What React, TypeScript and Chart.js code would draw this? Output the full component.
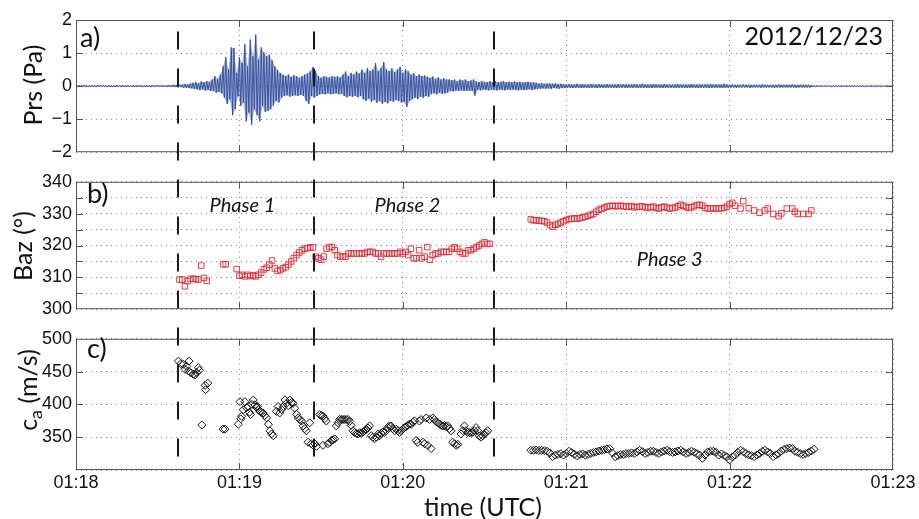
import React, { useEffect, useRef } from 'react';
import { Chart, registerables } from 'chart.js';

Chart.register(...registerables);

// ---------------- data (time = seconds after 01:18:00 UTC) ----------------
const timeTickSeconds = [0, 60, 120, 180, 240, 300];
const timeTickLabels = ['01:18', '01:19', '01:20', '01:21', '01:22', '01:23'];

const phaseBounds = [37.5, 87.5, 153.5];
const phaseNames = ['Phase 1', 'Phase 2', 'Phase 3'];
const phaseLabelTimes = [61.1, 121.7, 218];
const phaseLabelBaz = [330.4, 330.4, 313.7];

// pressure envelope (Pa), one value per second from t = 0
const prsStart = 0;
const prsStep = 1;
const prsUpper = [
  0.02, 0.03, 0.02, 0.03, 0.02, 0.02, 0.03, 0.02, 0.03, 0.02,
  0.03, 0.02, 0.03, 0.02, 0.02, 0.03, 0.02, 0.03, 0.02, 0.03,
  0.02, 0.03, 0.02, 0.03, 0.02, 0.02, 0.03, 0.02, 0.03, 0.02,
  0.03, 0.02, 0.03, 0.02, 0.03, 0.03, 0.04, 0.03, 0.04, 0.05,
  0.06, 0.05, 0.08, 0.1, 0.12, 0.09, 0.14, 0.12, 0.15, 0.13,
  0.2, 0.3, 0.22, 0.35, 0.6, 0.88, 0.5, 1.17, 1.15, 0.4,
  0.88, 0.7, 1.27, 0.6, 1.41, 0.9, 1.56, 0.8, 1.17, 1.02,
  0.9, 0.95, 0.78, 0.6, 0.49, 0.4, 0.35, 0.3, 0.35, 0.28,
  0.33, 0.3, 0.25, 0.3, 0.35, 0.38, 0.45, 0.58, 0.45, 0.3,
  0.25, 0.3, 0.28, 0.26, 0.3, 0.28, 0.3, 0.26, 0.35, 0.44,
  0.3, 0.4, 0.35, 0.44, 0.38, 0.5, 0.4, 0.54, 0.45, 0.5,
  0.7, 0.45, 0.55, 0.73, 0.5, 0.45, 0.54, 0.42, 0.5, 0.58,
  0.4, 0.5, 0.45, 0.35, 0.39, 0.3, 0.35, 0.3, 0.32, 0.28,
  0.25, 0.29, 0.22, 0.26, 0.2, 0.24, 0.2, 0.2, 0.18, 0.2,
  0.15, 0.2, 0.17, 0.2, 0.15, 0.17, 0.2, 0.14, 0.12, 0.15,
  0.13, 0.12, 0.15, 0.12, 0.14, 0.12, 0.13, 0.15, 0.12, 0.13,
  0.12, 0.14, 0.12, 0.13, 0.11, 0.12, 0.13, 0.11, 0.12, 0.1,
  0.08, 0.09, 0.07, 0.08, 0.08, 0.07, 0.08, 0.06, 0.07, 0.06,
  0.05, 0.06, 0.05, 0.05, 0.07, 0.05, 0.06, 0.05, 0.05, 0.06,
  0.05, 0.05, 0.06, 0.05, 0.05, 0.06, 0.05, 0.05, 0.05, 0.06,
  0.05, 0.06, 0.05, 0.05, 0.05, 0.06, 0.05, 0.05, 0.07, 0.05,
  0.05, 0.05, 0.06, 0.05, 0.05, 0.05, 0.06, 0.05, 0.05, 0.05,
  0.05, 0.06, 0.05, 0.05, 0.05, 0.05, 0.06, 0.05, 0.05, 0.05,
  0.05, 0.05, 0.05, 0.06, 0.05, 0.05, 0.05, 0.05, 0.07, 0.05,
  0.04, 0.05, 0.04, 0.04, 0.04, 0.05, 0.04, 0.04, 0.04, 0.04,
  0.04, 0.04, 0.05, 0.04, 0.04, 0.04, 0.04, 0.04, 0.05, 0.04,
  0.04, 0.04, 0.04, 0.05, 0.04, 0.04, 0.04, 0.04, 0.04, 0.04,
  0.03, 0.02, 0.02, 0.015, 0.02, 0.015, 0.02, 0.015, 0.02, 0.015,
  0.02, 0.015, 0.02, 0.015, 0.02, 0.015, 0.02, 0.015, 0.02, 0.015,
  0.02, 0.015, 0.02, 0.015, 0.02, 0.015, 0.02, 0.015, 0.02, 0.015,
  0.02,
];
const prsLower = [
  -0.02, -0.02, -0.03, -0.02, -0.03, -0.02, -0.02, -0.03, -0.02, -0.02,
  -0.02, -0.03, -0.02, -0.02, -0.03, -0.02, -0.02, -0.03, -0.02, -0.02,
  -0.02, -0.03, -0.02, -0.02, -0.03, -0.02, -0.02, -0.03, -0.02, -0.02,
  -0.02, -0.03, -0.02, -0.03, -0.02, -0.03, -0.03, -0.04, -0.03, -0.05,
  -0.05, -0.06, -0.07, -0.09, -0.1, -0.12, -0.1, -0.14, -0.12, -0.15,
  -0.15, -0.2, -0.18, -0.22, -0.35, -0.54, -0.4, -0.88, -0.7, -0.3,
  -0.6, -0.5, -1.07, -0.8, -1.17, -0.7, -0.88, -1.07, -0.6, -0.78,
  -0.75, -0.7, -0.58, -0.45, -0.5, -0.35, -0.3, -0.28, -0.32, -0.3,
  -0.28, -0.3, -0.27, -0.3, -0.45, -0.54, -0.3, -0.35, -0.3, -0.25,
  -0.24, -0.25, -0.22, -0.25, -0.24, -0.22, -0.25, -0.24, -0.3, -0.34,
  -0.3, -0.33, -0.3, -0.34, -0.3, -0.4, -0.45, -0.38, -0.49, -0.42,
  -0.5, -0.45, -0.54, -0.48, -0.52, -0.45, -0.48, -0.42, -0.45, -0.5,
  -0.48, -0.63, -0.45, -0.4, -0.35, -0.39, -0.32, -0.35, -0.3, -0.33,
  -0.24, -0.22, -0.25, -0.2, -0.24, -0.22, -0.2, -0.15, -0.16, -0.14,
  -0.15, -0.13, -0.15, -0.14, -0.15, -0.14, -0.29, -0.12, -0.13, -0.11,
  -0.12, -0.13, -0.11, -0.12, -0.13, -0.11, -0.12, -0.13, -0.11, -0.12,
  -0.11, -0.12, -0.13, -0.11, -0.12, -0.11, -0.1, -0.12, -0.1, -0.09,
  -0.08, -0.07, -0.08, -0.07, -0.08, -0.06, -0.07, -0.08, -0.06, -0.06,
  -0.05, -0.05, -0.06, -0.05, -0.05, -0.06, -0.05, -0.05, -0.06, -0.05,
  -0.05, -0.06, -0.05, -0.05, -0.06, -0.05, -0.05, -0.05, -0.06, -0.05,
  -0.05, -0.05, -0.06, -0.05, -0.05, -0.05, -0.06, -0.05, -0.05, -0.06,
  -0.05, -0.06, -0.05, -0.05, -0.05, -0.06, -0.05, -0.05, -0.05, -0.05,
  -0.06, -0.05, -0.05, -0.05, -0.06, -0.05, -0.05, -0.05, -0.06, -0.05,
  -0.05, -0.05, -0.06, -0.05, -0.05, -0.05, -0.05, -0.06, -0.05, -0.05,
  -0.04, -0.04, -0.05, -0.04, -0.04, -0.04, -0.04, -0.05, -0.04, -0.04,
  -0.04, -0.05, -0.04, -0.04, -0.04, -0.04, -0.05, -0.04, -0.04, -0.04,
  -0.04, -0.04, -0.04, -0.04, -0.05, -0.04, -0.04, -0.04, -0.04, -0.04,
  -0.03, -0.02, -0.015, -0.02, -0.015, -0.02, -0.015, -0.02, -0.015, -0.02,
  -0.015, -0.02, -0.015, -0.02, -0.015, -0.02, -0.015, -0.02, -0.015, -0.02,
  -0.015, -0.02, -0.015, -0.02, -0.015, -0.02, -0.015, -0.02, -0.015, -0.02,
  -0.015,
];

// back-azimuth (deg), one value per second
const bazStart12 = 38;
const bazValues12: (number | null)[] = [
  309.3, 309.3, 307.2, 308.8, 309.5, 309.6, 309.4, 309.3, 313.7, 309.8,
  308.9, null, null, null, null, null, 314.1, 314.1, null, null,
  null, 312.6, 310.5, 310.8, 310.3, 310.8, 310.4, 310.6, 310.3, 310.8,
  311.5, 312.5, 313, 314, 315.3, 312.8, 312, 312.3, 312.8, 313.2,
  314, 315, 316, 317, 317.8, 318.5, 319, 319.2, 319.4, 319.4,
  316.5, 316, 315.5, 316.5, 319, 319.5, 319.5, 318.5, 317, 316.5,
  316.5, 316.5, 317.5, 317.5, 317.5, 317.5, 317.5, 317.5, 317.5, 318,
  318, 318, 317.5, 317.5, 316.5, 317.5, 317.5, 317.5, 317.5, 317.5,
  317.5, 318, 317.5, 318, 317, 319, 316, 316, 318.5, 316,
  316.5, 319.5, 315.5, 317, 317.5, 317.5, 318, 318, 318, 318,
  319, 319.5, 319, 318, 317.5, 317.5, 318.5, 318.5, 319, 319.5,
  320, 320.5, 321, 320.5, 320.5,
];
const bazStart3 = 167;
const bazValues3: (number | null)[] = [
  328.2, 327.9, 327.9, 327.8, 327.7, 327.6, 327.2, 326.4, 325.9, 326.5,
  326.8, 327.2, 327.6, 328, 328.3, 328.4, 328.5, 328.4, 328.6, 328.8,
  329, 329.3, 329.6, 329.9, 330.6, 331.2, 331.5, 331.9, 332.2, 332.4,
  332.5, 332.3, 332.4, 332.5, 332.3, 332.2, 332.2, 332.4, 332, 332.1,
  332.2, 332.3, 332, 331.8, 332, 332.2, 331.8, 331.6, 332, 332.2,
  331.9, 331.6, 331.8, 331.9, 332.3, 332.8, 332.5, 332.1, 331.8, 332,
  332.4, 332.7, 332.8, 332.5, 331.8, 331.6, 331.6, 331.7, 331.6, 331.6,
  331.7, 331.8, 332.2, 333, 333.4, 332.5, null, 331.6, 333.9, null,
  331.7, null, 331, null, 330.3, null, 331, 331.6, null, 329.9,
  null, 329.2, 330.1, null, 331.6, null, 331.6, 330.6, 329.9, null,
  329.9, null, 329.9, 331, null,
];

// apparent velocity (m/s)
const caTimes12 = [
  37.6, 38.5, 39.4, 40, 40.7, 41.3, 41.5, 42.2, 43.1, 43.7, 44.3, 44.9, 45.3, 46.2, 47.4, 47.6, 48.4,
  54, 54.7, 59.6, 60.2, 60.5, 60.8, 61.4, 62, 62.6, 63.3, 63.7, 64.1, 64.6, 65.1, 65.7, 66.2, 66.7,
  67.1, 67.5, 68.1, 68.7, 69.3, 70, 70.6, 71.2, 71.8, 72.4, 73.6, 74.2, 74.8, 75.5, 76.1, 76.7, 77.3,
  77.9, 78.5, 79.1, 79.7, 80.3, 81, 81.6, 82.2, 82.8, 83.4, 84, 84.6, 85.2, 85.8, 86.4, 87, 87.7,
  88.3, 89.5, 90.1, 90.7, 90.7, 91.3, 91.9, 92.5, 93.2, 93.8, 94.4, 95, 95.6, 96.2, 96.8, 97.4, 98,
  98.5, 99.2, 99.9, 100.5, 101, 101.7, 102.3, 103, 103.6, 104.2, 104.8, 105.4, 106, 106.6, 107.2,
  107.8, 108.4, 109, 109.6, 110.3, 111, 111.5, 112.1, 112.7, 113.3, 113.9, 114.5, 115.1, 115.7,
  116.3, 117, 117.6, 118.2, 118.8, 119.4, 120, 120.6, 121.2, 121.8, 122.5, 123.1, 123.7, 124.3,
  124.9, 125.5, 126.1, 126.7, 127.4, 128, 128.6, 129.2, 129.8, 130.4, 131, 131.6, 132.2, 132.9,
  133.5, 134.1, 134.7, 135.3, 135.9, 136.5, 137.1, 137.7, 138.3, 139, 139.6, 140.2, 141.4, 142,
  142.6, 143.2, 143.8, 144.4, 145.1, 145.7, 146.3, 146.9, 147.5, 148.1, 148.7, 149.3, 149.9, 150.5, 151.2,
];
const caValues12 = [
  466, 462, 461, 453.5, 458, 451, 466, 448, 446, 445, 448.6, 456, 452, 368.6, 429, 422.4, 432.4,
  362.3, 362.3, 369.7, 404.2, 378, 382, 391.9, 404.2, 395, 396.8, 388, 384.5, 400, 406.7, 399.3, 396, 396.8,
  392, 389.4, 388, 386.9, 383, 379.4, 369.7, 359.8, 355, 352.3, 389.4, 396.8, 386.9, 392, 396.8, 406.7, 401.7,
  398, 406.7, 403, 401.7, 394.2, 385, 379.4, 377, 374.6, 367.2, 363, 359.8, 342.4, 372, 340, 338, 340,
  336, 384.5, 383, 382, 337.6, 378, 374.6, 340, 342, 345, 346, 347.5, 367.2, 372, 377.1, 377, 377,
  377, 377, 377, 374, 368, 359.8, 357, 356, 354.9, 357, 356, 358, 359.8, 362, 364,
  367.2, 352.3, 350, 347.5, 350, 355, 352.3, 356, 358, 357.3, 360, 365, 367.2, 367,
  363, 359.8, 362, 360, 357.3, 360, 362, 364.7, 366, 368, 370, 369.7, 373, 375,
  345, 342, 374.6, 377, 342.4, 340, 379.4, 337.5, 377, 332.6, 379.4, 377, 374, 372,
  370, 368, 367.2, 368, 366, 367.2, 363, 359.8, 342.4, 340, 337.5, 339, 354.9, 360,
  367.2, 360, 357.3, 357, 357, 357.3, 360, 364.7, 360, 352, 349.9, 352, 354.9, 357, 359.8,
];
const caStart3 = 167;
const caValues3 = [
  330.1, 330.1, 330.6, 329.8, 330.1, 329.5, 328.6, 326, 320.2, 322.7,
  323.7, 325, 322.7, 325.2, 328.6, 326.7, 324, 321.7, 323.7, 324.5,
  322.7, 323.7, 325.2, 326.7, 327.6, 329, 330.1, 331, 332, 332.6,
  326, 320.2, 322, 323.7, 323.7, 325, 325.2, 326.2, 325.2, 327.6,
  330.1, 328, 325.2, 326.7, 328.6, 328.6, 326.7, 325.2, 327.6, 329,
  330.1, 328, 326.7, 327.6, 329, 330.1, 327.6, 325.2, 326.7, 328.6,
  327, 325, 322.7, 317.8, 322.7, 327.6, 328.6, 328.6, 327, 322.7,
  324.5, 322, 320.2, 315.3, 320, 322.7, 327, 330.1, 328, 325.2,
  323, 322, 320.2, 323, 325.2, 328.6, 330.1, 327.6, 325, 320.2,
  323, 325.2, 329, 331.6, 332.6, 333.5, 333, 328.6, 327, 325,
  323.7, 325, 326.7, 329, 331.6,
];

// ---------------- tables built from the arrays ----------------
type Pt = { x: number; y: number };
const prsData: Pt[] = [];
const prsTop: Pt[] = [];
const prsBottom: Pt[] = [];
prsUpper.forEach((u, i) => {
  const t = prsStart + i * prsStep;
  prsData.push({ x: t, y: u });
  prsData.push({ x: t + prsStep / 2, y: prsLower[i] });
  prsTop.push({ x: t, y: u });
  prsBottom.push({ x: t + prsStep / 2, y: prsLower[i] });
});
const seriesFrom = (start: number, vals: (number | null)[]): Pt[] =>
  vals.flatMap((v, i) => (v === null ? [] : [{ x: start + i, y: v }]));
const bazData: Pt[] = [...seriesFrom(bazStart12, bazValues12), ...seriesFrom(bazStart3, bazValues3)];
const caData: Pt[] = [
  ...caTimes12.map((t, i) => ({ x: t, y: caValues12[i] })),
  ...seriesFrom(caStart3, caValues3),
];

// ---------------- layout & style ----------------
const CANVAS_W = 919;
const PLOT_L = 76;
const PLOT_R = 893;
const DASH_TOP = 31.5;
const DASH_BOTTOM = 462;
const GRID = '#8a8a8a';
const FRAME = '#555555';
const TXT = '#111111';
const PRS_COLOR = '#2d4a9c';
const TICK_FONT = { family: '"Liberation Sans", Arial, Helvetica, sans-serif', size: 18 };
const LBL = 'Lato, "Open Sans", sans-serif';

type Panel = { top: number; height: number; plotTop: number; plotBottom: number };
const panelA: Panel = { top: 0, height: 167, plotTop: 20, plotBottom: 156 };
const panelB: Panel = { top: 167, height: 157, plotTop: 178, plotBottom: 312 };
const panelC: Panel = { top: 324, height: 195, plotTop: 335, plotBottom: 470 };

const timeLabel = (v: number) => {
  const i = timeTickSeconds.indexOf(v);
  return i >= 0 ? timeTickLabels[i] : '';
};

function drawVTitle(
  ctx: CanvasRenderingContext2D,
  parts: { text: string; size: number; shift: number }[],
  bx: number,
  cy: number,
) {
  ctx.save();
  ctx.translate(bx, cy);
  ctx.rotate(-Math.PI / 2);
  ctx.fillStyle = TXT;
  ctx.textAlign = 'left';
  ctx.textBaseline = 'alphabetic';
  let total = 0;
  const ws = parts.map((p) => {
    ctx.font = `${p.size}px ${LBL}`;
    const w = ctx.measureText(p.text).width;
    total += w;
    return w;
  });
  let x = -total / 2;
  parts.forEach((p, i) => {
    ctx.font = `${p.size}px ${LBL}`;
    ctx.fillText(p.text, x, p.shift);
    x += ws[i];
  });
  ctx.restore();
}

function text(
  ctx: CanvasRenderingContext2D,
  s: string,
  x: number,
  y: number,
  font: string,
  align: CanvasTextAlign = 'left',
) {
  ctx.save();
  ctx.font = font;
  ctx.fillStyle = TXT;
  ctx.textAlign = align;
  ctx.textBaseline = 'alphabetic';
  ctx.fillText(s, x, y);
  ctx.restore();
}

function decorPlugin(panel: Panel, drawTexts: (chart: any, ctx: CanvasRenderingContext2D, off: number) => void) {
  return {
    id: 'decor',
    afterDatasetsDraw(chart: any) {
      const ctx: CanvasRenderingContext2D = chart.ctx;
      const a = chart.chartArea;
      const xs = chart.scales.x;
      const ys = chart.scales.y;
      const off = panel.top;
      // frame + inward ticks
      ctx.save();
      ctx.setLineDash([]);
      ctx.strokeStyle = FRAME;
      ctx.lineWidth = 1;
      ctx.strokeRect(a.left + 0.5, a.top + 0.5, a.right - a.left - 1, a.bottom - a.top - 1);
      const TL = 7;
      ctx.beginPath();
      for (const t of xs.ticks) {
        const px = Math.round(xs.getPixelForValue(t.value)) + 0.5;
        if (px < a.left + 2 || px > a.right - 2) continue;
        ctx.moveTo(px, a.top);
        ctx.lineTo(px, a.top + TL);
        ctx.moveTo(px, a.bottom);
        ctx.lineTo(px, a.bottom - TL);
      }
      for (const t of ys.ticks) {
        const py = Math.round(ys.getPixelForValue(t.value)) + 0.5;
        if (py < a.top + 2 || py > a.bottom - 2) continue;
        ctx.moveTo(a.left, py);
        ctx.lineTo(a.left + TL, py);
        ctx.moveTo(a.right, py);
        ctx.lineTo(a.right - TL, py);
      }
      ctx.stroke();
      ctx.restore();
      // phase boundaries: one dashed line through all panels
      ctx.save();
      ctx.strokeStyle = '#1c1c1c';
      ctx.lineWidth = 2;
      ctx.setLineDash([18, 19]);
      for (const t of phaseBounds) {
        const px = Math.round(xs.getPixelForValue(t));
        ctx.beginPath();
        ctx.moveTo(px, DASH_TOP - off);
        ctx.lineTo(px, DASH_BOTTOM - off);
        ctx.stroke();
      }
      ctx.restore();
      drawTexts(chart, ctx, off);
    },
  };
}

function baseOptions(panel: Panel, y: any, showX: boolean) {
  const padTop = panel.plotTop - panel.top;
  const localBottom = panel.plotBottom - panel.top;
  const xH = showX ? panel.height - localBottom : 0;
  const padBottom = showX ? 0 : panel.height - localBottom;
  return {
    responsive: false,
    animation: false as const,
    devicePixelRatio: 1,
    events: [],
    layout: { padding: { left: 0, right: CANVAS_W - PLOT_R, top: padTop, bottom: padBottom } },
    plugins: { legend: { display: false }, tooltip: { enabled: false } },
    scales: {
      x: {
        type: 'linear',
        min: 0,
        max: 300,
        afterFit: (s: any) => {
          s.height = xH;
        },
        border: { display: false, dash: [1, 4] },
        grid: { color: GRID, lineWidth: 1, drawTicks: false },
        ticks: {
          display: showX,
          stepSize: 60,
          padding: 2,
          color: TXT,
          font: TICK_FONT,
          maxRotation: 0,
          autoSkip: false,
          callback: (v: any) => timeLabel(Number(v)),
        },
      },
      y: {
        type: 'linear',
        afterFit: (s: any) => {
          s.width = PLOT_L;
        },
        border: { display: false, dash: [1, 4] },
        grid: { color: GRID, lineWidth: 1, drawTicks: false },
        ...y,
        ticks: { padding: 4, color: TXT, font: TICK_FONT, autoSkip: false, ...y.ticks },
      },
    },
  };
}

export default function App() {
  const ra = useRef<HTMLCanvasElement>(null);
  const rb = useRef<HTMLCanvasElement>(null);
  const rc = useRef<HTMLCanvasElement>(null);

  useEffect(() => {
    const chartA = new Chart(ra.current as HTMLCanvasElement, {
      type: 'line',
      data: {
        datasets: [
          {
            data: prsTop,
            borderWidth: 0,
            borderColor: 'rgba(0,0,0,0)',
            pointRadius: 0,
            tension: 0,
            fill: false,
          },
          {
            data: prsBottom,
            borderWidth: 0,
            borderColor: 'rgba(0,0,0,0)',
            backgroundColor: 'rgba(45,74,156,0.4)',
            pointRadius: 0,
            tension: 0,
            fill: '-1',
          },
          {
            data: prsData,
            borderColor: PRS_COLOR,
            borderWidth: 0.9,
            pointRadius: 0,
            tension: 0,
            fill: false,
          },
        ],
      },
      options: baseOptions(
        panelA,
        {
          min: -2,
          max: 2,
          ticks: { stepSize: 1, callback: (v: any) => (Number(v) < 0 ? '\u2212' + Math.abs(Number(v)) : String(v)) },
        },
        false,
      ) as any,
      plugins: [
        decorPlugin(panelA, (chart, ctx, off) => {
          text(ctx, 'a)', 80, 46.5 - off, `27px ${LBL}`);
          text(ctx, '2012/12/23', 883, 45 - off, `25px ${LBL}`, 'right');
          drawVTitle(ctx, [{ text: 'Prs (Pa)', size: 25, shift: 0 }], 42, 85 - off);
        }),
      ],
    });

    const chartB = new Chart(rb.current as HTMLCanvasElement, {
      type: 'scatter',
      data: {
        datasets: [
          {
            data: bazData,
            pointStyle: 'rect',
            pointRadius: 3.9,
            borderColor: 'rgba(230,38,50,0.9)',
            backgroundColor: 'rgba(0,0,0,0)',
            borderWidth: 1,
          },
        ],
      },
      options: baseOptions(
        panelB,
        {
          min: 300,
          max: 340,
          ticks: { stepSize: 5, callback: (v: any) => (Number(v) % 10 === 0 ? String(v) : '') },
        },
        false,
      ) as any,
      plugins: [
        decorPlugin(panelB, (chart, ctx, off) => {
          text(ctx, 'b)', 87, 202.5 - off, `27px ${LBL}`);
          const xs = chart.scales.x;
          const ys = chart.scales.y;
          phaseNames.forEach((n, i) => {
            text(ctx, n, xs.getPixelForValue(phaseLabelTimes[i]), ys.getPixelForValue(phaseLabelBaz[i]), `italic 20px ${LBL}`, 'center');
          });
          drawVTitle(ctx, [{ text: 'Baz (\u00b0)', size: 25, shift: 0 }], 32, 246 - off);
        }),
      ],
    });

    const chartC = new Chart(rc.current as HTMLCanvasElement, {
      type: 'scatter',
      data: {
        datasets: [
          {
            data: caData,
            pointStyle: 'rectRot',
            pointRadius: 4,
            borderColor: '#151515',
            backgroundColor: 'rgba(0,0,0,0)',
            borderWidth: 1,
          },
        ],
      },
      options: baseOptions(
        panelC,
        {
          min: 300,
          max: 500,
          ticks: { stepSize: 50, callback: (v: any) => (Number(v) === 300 ? '' : String(v)) },
        },
        true,
      ) as any,
      plugins: [
        decorPlugin(panelC, (chart, ctx, off) => {
          text(ctx, 'c)', 87, 357.5 - off, `27px ${LBL}`);
          drawVTitle(
            ctx,
            [
              { text: 'c', size: 25, shift: 0 },
              { text: 'a', size: 18, shift: 5 },
              { text: ' (m/s)', size: 25, shift: 0 },
            ],
            37,
            390 - off,
          );
          text(ctx, 'time (UTC)', 483, 516 - off, `25px ${LBL}`, 'center');
        }),
      ],
    });

    return () => {
      chartA.destroy();
      chartB.destroy();
      chartC.destroy();
    };
  }, []);

  const cs = (p: Panel): React.CSSProperties => ({ position: 'absolute', left: 0, top: p.top, display: 'block' });

  return (
    <div style={{ position: 'fixed', left: 0, top: 0, width: 919, height: 519, background: '#ffffff', overflow: 'hidden' }}>
      <canvas ref={ra} width={CANVAS_W} height={panelA.height} style={cs(panelA)} />
      <canvas ref={rb} width={CANVAS_W} height={panelB.height} style={cs(panelB)} />
      <canvas ref={rc} width={CANVAS_W} height={panelC.height} style={cs(panelC)} />
    </div>
  );
}
